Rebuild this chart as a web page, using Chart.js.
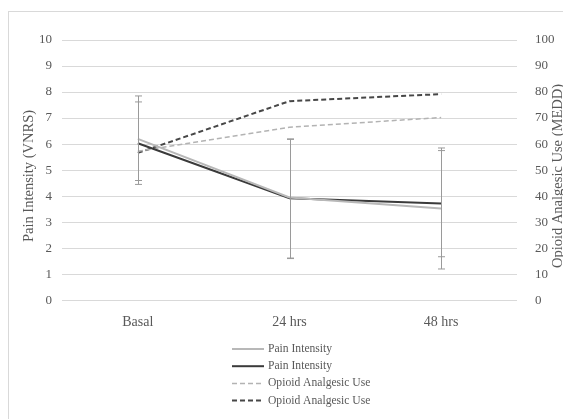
<!DOCTYPE html>
<html lang="en">
<head>
    <meta charset="UTF-8">
    <title>Pain Intensity and Opioid Analgesic Use</title>
    <style>
        body {
            margin: 0;
            padding: 0;
            background: #fff;
        }
        .chart-box {
            width: 563px;
            height: 419px;
        }
    </style>
</head>
<body>
    <div class="chart-box">
        <canvas id="painChart" width="563" height="419"></canvas>
    </div>

    <script src="https://cdn.jsdelivr.net/npm/chart.js"></script>
    <script>
        // Time points
        const timePoints = ['Basal', '24 hrs', '48 hrs'];

        // Pain intensity (VNRS, left axis) - two groups
        const painGroupA = [6.2, 3.95, 3.52];
        const painGroupB = [6.03, 3.92, 3.72];

        // Error bar ends for the pain series
        const painAHigh = [7.85, 6.2, 5.85];
        const painALow = [4.45, 1.6, 1.2];
        const painBHigh = [7.62, 6.18, 5.75];
        const painBLow = [4.6, 1.62, 1.67];

        // Opioid analgesic use (MEDD, right axis) - two groups
        const opioidGroupA = [57.2, 66.5, 70.2];
        const opioidGroupB = [56.6, 76.5, 79.2];

        // Axis ticks
        const painTicks = [0, 1, 2, 3, 4, 5, 6, 7, 8, 9, 10];
        const opioidTicks = [0, 10, 20, 30, 40, 50, 60, 70, 80, 90, 100];

        const serif = '"Liberation Serif", "Times New Roman", serif';
        const textGrey = '#595959';

        // Frame, axis titles, legend and error bars drawn on the canvas
        const extrasPlugin = {
            id: 'extras',
            beforeDraw(chart) {
                const c = chart.ctx;
                c.save();
                c.strokeStyle = '#d9d9d9';
                c.lineWidth = 1;
                c.strokeRect(8.5, 11.5, 700, 600);
                c.restore();
            },
            afterDatasetsDraw(chart) {
                const c = chart.ctx;
                const x = chart.scales.x;
                const y = chart.scales.y;
                const bars = [[painAHigh, painALow], [painBHigh, painBLow]];
                c.save();
                c.strokeStyle = '#9a9a9a';
                c.lineWidth = 1;
                bars.forEach(function (pair) {
                    for (let i = 0; i < timePoints.length; i++) {
                        const px = Math.round(x.getPixelForValue(i)) + 0.5;
                        const top = y.getPixelForValue(pair[0][i]);
                        const bot = y.getPixelForValue(pair[1][i]);
                        c.beginPath();
                        c.moveTo(px, top);
                        c.lineTo(px, bot);
                        c.moveTo(px - 3.5, top);
                        c.lineTo(px + 3.5, top);
                        c.moveTo(px - 3.5, bot);
                        c.lineTo(px + 3.5, bot);
                        c.stroke();
                    }
                });
                c.restore();
            },
            afterDraw(chart) {
                const c = chart.ctx;
                c.save();
                c.fillStyle = textGrey;
                c.font = '14.5px ' + serif;
                c.textAlign = 'center';
                c.textBaseline = 'middle';

                c.save();
                c.translate(29, 176);
                c.rotate(-Math.PI / 2);
                c.fillText('Pain Intensity (VNRS)', 0, 0);
                c.restore();

                c.save();
                c.translate(558, 176);
                c.rotate(-Math.PI / 2);
                c.fillText('Opioid Analgesic Use (MEDD)', 0, 0);
                c.restore();

                // Legend, one item per row
                const sets = chart.data.datasets;
                c.font = '11.6px ' + serif;
                c.textAlign = 'left';
                for (let i = 0; i < sets.length; i++) {
                    const ly = 349 + i * 17.2;
                    c.save();
                    c.strokeStyle = sets[i].borderColor;
                    c.lineWidth = sets[i].borderWidth;
                    c.setLineDash(sets[i].borderDash || []);
                    c.beginPath();
                    c.moveTo(232, ly);
                    c.lineTo(264, ly);
                    c.stroke();
                    c.restore();
                    c.fillText(sets[i].label, 268, ly);
                }
                c.restore();
            }
        };

        const ctx = document.getElementById('painChart').getContext('2d');

        const painChart = new Chart(ctx, {
            type: 'line',
            data: {
                labels: timePoints,
                datasets: [
                    {
                        label: 'Pain Intensity',
                        data: painGroupA,
                        yAxisID: 'y',
                        borderColor: '#b8b8b8',
                        borderWidth: 2,
                        pointRadius: 0,
                        tension: 0
                    },
                    {
                        label: 'Pain Intensity',
                        data: painGroupB,
                        yAxisID: 'y',
                        borderColor: '#3a3a3a',
                        borderWidth: 2,
                        pointRadius: 0,
                        tension: 0
                    },
                    {
                        label: 'Opioid Analgesic Use',
                        data: opioidGroupA,
                        yAxisID: 'y1',
                        borderColor: '#b3b3b3',
                        borderWidth: 1.5,
                        borderDash: [5, 3],
                        pointRadius: 0,
                        tension: 0
                    },
                    {
                        label: 'Opioid Analgesic Use',
                        data: opioidGroupB,
                        yAxisID: 'y1',
                        borderColor: '#474747',
                        borderWidth: 2,
                        borderDash: [5, 3],
                        pointRadius: 0,
                        tension: 0
                    }
                ]
            },
            options: {
                responsive: false,
                animation: false,
                layout: {
                    padding: { top: 40, bottom: 82, left: 0, right: 0 }
                },
                plugins: {
                    legend: { display: false },
                    tooltip: { enabled: false }
                },
                scales: {
                    x: {
                        offset: true,
                        grid: { display: false },
                        border: { display: false },
                        ticks: {
                            color: textGrey,
                            font: { family: serif, size: 14 },
                            padding: 6
                        }
                    },
                    y: {
                        position: 'left',
                        min: 0,
                        max: 10,
                        afterFit(scale) { scale.width = 62; },
                        afterBuildTicks(scale) {
                            scale.ticks = painTicks.map(v => ({ value: v }));
                        },
                        grid: { color: '#d9d9d9', drawTicks: false },
                        border: { display: false },
                        ticks: {
                            color: textGrey,
                            font: { family: serif, size: 13 },
                            padding: 10
                        }
                    },
                    y1: {
                        position: 'right',
                        min: 0,
                        max: 100,
                        afterFit(scale) { scale.width = 46; },
                        afterBuildTicks(scale) {
                            scale.ticks = opioidTicks.map(v => ({ value: v }));
                        },
                        grid: { display: false },
                        border: { display: false },
                        ticks: {
                            color: textGrey,
                            font: { family: serif, size: 13 },
                            padding: 10
                        }
                    }
                }
            },
            plugins: [extrasPlugin]
        });
    </script>
</body>
</html>
